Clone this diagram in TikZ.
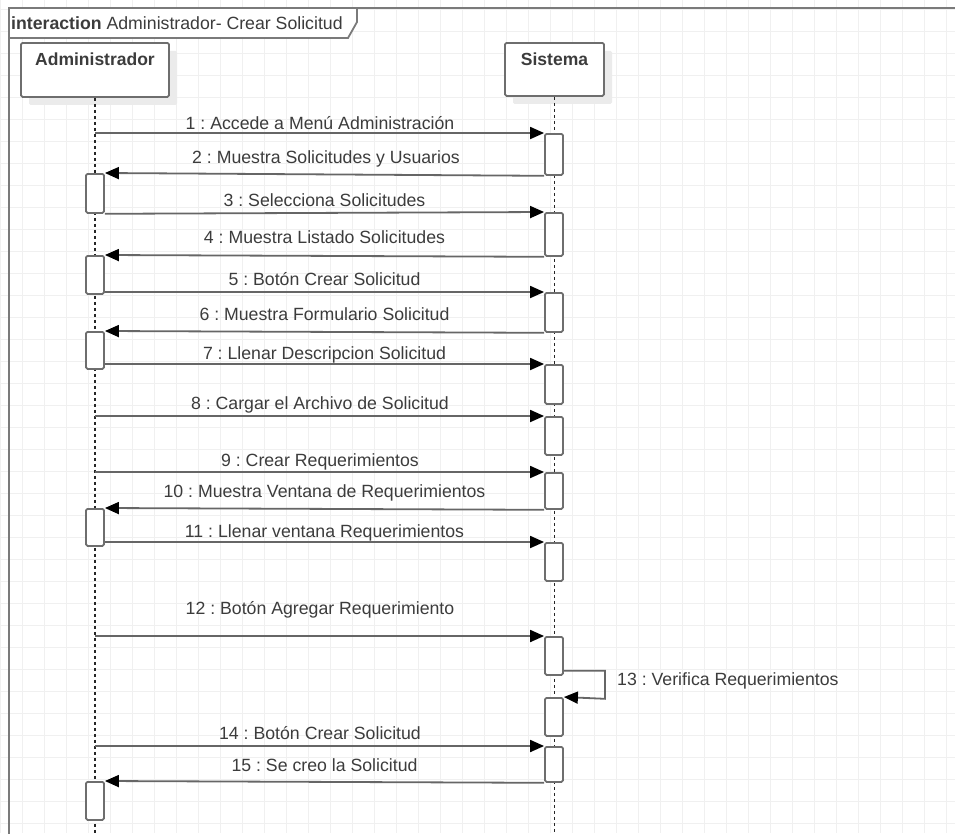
\documentclass[tikz,border=0pt]{standalone}
\usepackage{fontspec}
\setmainfont{Liberation Sans}
\usetikzlibrary{arrows.meta,calc,shadows}
\definecolor{gridc}{HTML}{F0F0F0}
\definecolor{framec}{HTML}{7A7A7A}
\definecolor{linec}{HTML}{666666}
\definecolor{boxc}{HTML}{6E6E6E}
\definecolor{textc}{HTML}{3C3C3C}
\definecolor{shadowc}{HTML}{EBEBEB}
\frenchspacing

\begin{document}
\begin{tikzpicture}[x=1pt,y=-1pt,
  gridline/.style={draw=gridc,line width=1.1pt},
  frameline/.style={draw=framec,line width=2.4pt},
  headbox/.style={draw=boxc,fill=white,line width=1.8pt,rounded corners=1.5pt,
    inner sep=0pt,anchor=north,
    drop shadow={shadow xshift=8pt,shadow yshift=-8pt,fill=shadowc,opacity=1}},
  headtext/.style={font=\bfseries\fontsize{17.5}{20}\selectfont,text=textc,anchor=base,inner sep=0pt},
  lifeline/.style={draw=black!85,line width=1.3pt,dash pattern=on 3pt off 3pt},
  act/.style={draw=boxc,fill=white,line width=1.8pt,rounded corners=1.5pt,
    minimum width=18pt,inner sep=0pt,anchor=north},
  msg/.style={draw=linec,line width=1.8pt,-{Triangle[length=14pt,width=12pt,color=black]}},
  msgtext/.style={font=\fontsize{17.7}{20}\selectfont,text=textc,anchor=base,inner sep=0pt},
]
\useasboundingbox (0,0) rectangle (955,833);
\fill[white] (0,0) rectangle (955,833);

% background grid
\foreach \k in {0,...,43} \draw[gridline] (0.7+22*\k,0) -- (0.7+22*\k,833);
\foreach \k in {0,...,37} \draw[gridline] (0,9.5+22*\k) -- (955,9.5+22*\k);

% interaction frame and its name tag
\draw[frameline] (9,840) -- (9,8) -- (960,8);
\draw[draw=framec,line width=1.8pt,fill=white] (9,8) -- (357,8) -- (357,22) -- (348,38) -- (9,38) -- cycle;
\node[anchor=base west,inner sep=0pt,text=textc,font=\fontsize{17.7}{20}\selectfont] (title) at (11,29)
  {\textbf{interaction} Administrador- Crear Solicitud};

% lifeline heads
\node[headbox,minimum width=148pt,minimum height=54pt] (admin) at (95,42) {};
\node[headtext] (adminlbl) at ($(admin.north)+(0,23)$) {Administrador};
\node[headbox,minimum width=99pt,minimum height=53pt] (sys) at (554.5,42) {};
\node[headtext] (syslbl) at ($(sys.north)+(0,23)$) {Sistema};

% lifelines
\coordinate (adminEnd) at (95,840);
\coordinate (sysEnd) at (554.5,840);
\draw[lifeline] (admin.south) -- (adminEnd);
\draw[lifeline] (sys.south) -- (sysEnd);

% activations on Sistema
\node[act,minimum height=41pt] (sa1)  at (554,133) {};
\node[act,minimum height=43pt] (sa2)  at (554,212) {};
\node[act,minimum height=39pt] (sa3)  at (554,292) {};
\node[act,minimum height=39pt] (sa4)  at (554,364) {};
\node[act,minimum height=38pt] (sa5)  at (554,416) {};
\node[act,minimum height=36pt] (sa6)  at (554,472) {};
\node[act,minimum height=38pt] (sa7)  at (554,542) {};
\node[act,minimum height=38pt] (sa8)  at (554,636) {};
\node[act,minimum height=38pt] (sa9)  at (554,697) {};
\node[act,minimum height=35pt] (sa10) at (554,746) {};

% activations on Administrador
\node[act,minimum height=39pt] (ab1) at (95,173) {};
\node[act,minimum height=38pt] (ab2) at (95,255) {};
\node[act,minimum height=37pt] (ab3) at (95,331) {};
\node[act,minimum height=37pt] (ab4) at (95,508) {};
\node[act,minimum height=38pt] (ab5) at (95,781) {};

% messages
\draw[msg] (sa1.north west -| admin) -- (sa1.north west);
\draw[msg] (sa1.south west) -- (ab1.north east);
\draw[msg] (ab1.south east) -- (sa2.north west);
\draw[msg] (sa2.south west) -- (ab2.north east);
\draw[msg] (sa3.north west -| ab2.east) -- (sa3.north west);
\draw[msg] (sa3.south west) -- (ab3.north east);
\draw[msg] (sa4.north west -| ab3.east) -- (sa4.north west);
\draw[msg] (sa5.north west -| admin) -- (sa5.north west);
\draw[msg] (sa6.north west -| admin) -- (sa6.north west);
\draw[msg] (sa6.south west) -- (ab4.north east);
\draw[msg] (sa7.north west -| ab4.east) -- (sa7.north west);
\draw[msg] (sa8.north west -| admin) -- (sa8.north west);
\draw[msg] ($(sa8.south east)+(0,-5)$) -- ++(41,0) -- ++(0,28) -- (sa9.north east);
\draw[msg] (sa10.north west -| admin) -- (sa10.north west);
\draw[msg] (sa10.south west) -- (ab5.north east);

% message labels
\node[msgtext] (l1)  at (320,129.5) {1 : Accede a Menú Administración};
\node[msgtext] (l2)  at (326,163.5) {2 : Muestra Solicitudes y Usuarios};
\node[msgtext] (l3)  at (324.5,206.5) {3 : Selecciona Solicitudes};
\node[msgtext] (l4)  at (324.5,243.5) {4 : Muestra Listado Solicitudes};
\node[msgtext] (l5)  at (324.5,285) {5 : Botón Crear Solicitud};
\node[msgtext] (l6)  at (324.5,320.5) {6 : Muestra Formulario Solicitud};
\node[msgtext] (l7)  at (324.5,359) {7 : Llenar Descripcion Solicitud};
\node[msgtext] (l8)  at (320,409.5) {8 : Cargar el Archivo de Solicitud};
\node[msgtext] (l9)  at (320,466.5) {9 : Crear Requerimientos};
\node[msgtext] (l10) at (324.5,497) {10 : Muestra Ventana de Requerimientos};
\node[msgtext] (l11) at (324.5,537) {11 : Llenar ventana Requerimientos};
\node[msgtext] (l12) at (320,614.5) {12 : Botón Agregar Requerimiento};
\node[msgtext,anchor=base west] (l13) at (617,685.5) {13 : Verifica Requerimientos};
\node[msgtext] (l14) at (320,739) {14 : Botón Crear Solicitud};
\node[msgtext] (l15) at (324.5,771.5) {15 : Se creo la Solicitud};
\end{tikzpicture}
\end{document}
